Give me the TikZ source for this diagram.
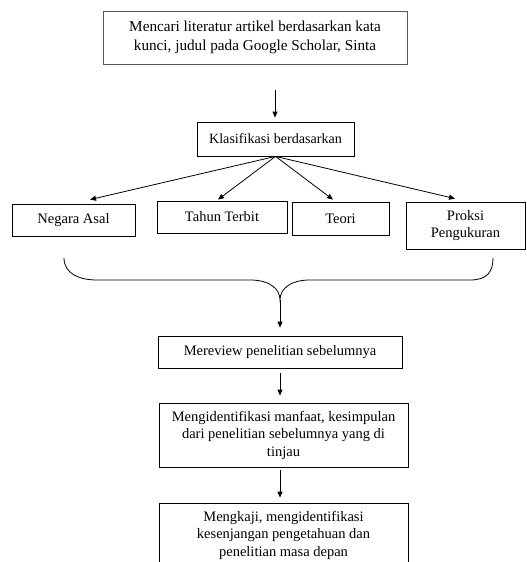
\documentclass[tikz,border=0pt]{standalone}
\usepackage{fontspec}
\setmainfont{Liberation Serif}
\usetikzlibrary{arrows.meta,calc}
\begin{document}
\begin{tikzpicture}[x=1pt,y=-1pt,
  box/.style={draw=black,line width=0.8pt,rectangle,align=center,inner sep=2pt,
    font=\fontsize{14.5}{17.5}\selectfont},
  arr/.style={line width=0.8pt,-{Triangle[length=6pt,width=5pt]}},
  brace/.style={line width=0.8pt}]
\useasboundingbox (0,0) rectangle (527,562);
\node[box,draw=black!65,minimum width=304pt,minimum height=53pt,
  font=\fontsize{15.2}{19}\selectfont] (cari) at (255,37.5)
  {Mencari literatur artikel berdasarkan kata\\kunci, judul pada Google Scholar, Sinta};
\node[box,minimum width=157pt,minimum height=34pt,font=\fontsize{14.1}{17}\selectfont] (klas) at (275.5,139) {Klasifikasi berdasarkan};
\node[box,minimum width=123pt,minimum height=32pt] (negara) at (73.5,220) {Negara Asal};
\node[box,minimum width=130pt,minimum height=32pt] (tahun) at (222,217) {Tahun Terbit};
\node[box,minimum width=97pt,minimum height=33pt] (teori) at (340.5,218.5) {Teori};
\node[box,minimum width=119pt,minimum height=47pt] (proksi) at (465.5,225.5) {Proksi\\Pengukuran};
\node[box,minimum width=244pt,minimum height=32pt] (review) at (280,352) {Mereview penelitian sebelumnya};
\node[box,minimum width=249pt,minimum height=64pt] (ident) at (283.5,435)
  {Mengidentifikasi manfaat, kesimpulan\\dari penelitian sebelumnya yang di\\tinjau};
\node[box,minimum width=249pt,minimum height=64pt] (kaji) at (283.5,535)
  {Mengkaji, mengidentifikasi\\kesenjangan pengetahuan dan\\penelitian masa depan};
\coordinate (start) at (275,90);
\coordinate (tip) at (280,300);
\draw[arr,shorten >=4pt] (start) -- (klas.north -| start);
\draw[arr] (klas.south) -- ($(negara.north)+(16.5,-4)$);
\draw[arr] (klas.south) -- ($(tahun.north)+(-4,-1)$);
\draw[arr] (klas.south) -- ($(teori.north)+(-7.5,-2)$);
\draw[arr] (klas.south) -- ($(proksi.north)+(-10.5,-3)$);
\draw[brace] (64,258) .. controls (64,274) and (80,280) .. (97,280) -- (250,280)
  .. controls (270,280) and (280,289) .. (tip)
  .. controls (280,289) and (290,280) .. (310,280) -- (470,280)
  .. controls (487,280) and (493,272) .. (493,258);
\draw[arr,shorten >=8pt] (tip) -- (review.north -| tip);
\draw[arr,shorten <=5pt,shorten >=7pt] (review.south -| tip) -- (ident.north -| tip);
\draw[arr,shorten <=3pt,shorten >=5pt] (ident.south -| tip) -- (kaji.north -| tip);
\end{tikzpicture}
\end{document}
